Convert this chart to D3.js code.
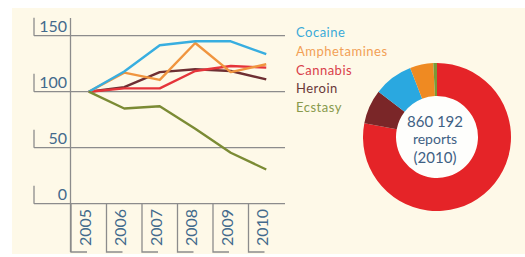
<!DOCTYPE html>
<html>
<head>
<meta charset="utf-8">
<script src="https://cdn.jsdelivr.net/npm/d3@7"></script>
<style>
  body { margin: 0; background: #ffffff; }
  svg { display: block; font-family: Lato, "Open Sans", sans-serif; }
</style>
</head>
<body>
<div id="vis"></div>
<script>
// chart data
const YEARS = ["2005", "2006", "2007", "2008", "2009", "2010"];
const Y_TICKS = [0, 50, 100, 150];

const SERIES_NAMES = ["Cocaine", "Amphetamines", "Cannabis", "Heroin", "Ecstasy"];
const COCAINE = [100, 118, 141.5, 145, 145, 133.5];
const AMPHETAMINES = [100, 117, 110.5, 143.5, 117.5, 124.5];
const CANNABIS = [100, 103, 103, 118.5, 123, 121.5];
const HEROIN = [100, 104, 117.5, 120, 118.5, 111];
const ECSTASY = [100, 85, 87, 67, 45.5, 30.5];

// share of reports in 2010 (percent), clockwise from top
const SHARE_NAMES = ["Cannabis", "Heroin", "Cocaine", "Amphetamines", "Ecstasy"];
const SHARE_VALUES = [78, 7.5, 8.6, 5.1, 0.8];
const TOTAL_LABEL = ["860 192", "reports", "(2010)"];

// colours
const LINE_COLORS = {Cocaine: "#38aee0", Amphetamines: "#f0953f", Cannabis: "#e5343a",
                     Heroin: "#6e2f33", Ecstasy: "#7b8b34"};
const TEXT_COLORS = {Cocaine: "#3aaad8", Amphetamines: "#f2a055", Cannabis: "#d9404a",
                     Heroin: "#6a3838", Ecstasy: "#889a4c"};
const PIE_COLORS = {Cannabis: "#e52428", Heroin: "#7a2628", Cocaine: "#2aa8e0",
                    Amphetamines: "#ef8a22", Ecstasy: "#789a38"};

const WIDTH = 525, HEIGHT = 257;
const AXIS_COLOR = "#8c8c8c";
const LABEL_COLOR = "#436a8c";

const svg = d3.select("#vis").append("svg")
              .attr("width", WIDTH)
              .attr("height", HEIGHT);

// cream panel
svg.append("rect")
   .attr("x", 12).attr("y", 8)
   .attr("width", WIDTH - 12).attr("height", 246)
   .attr("fill", "#fef9e8");

// scales
const X_SCALE = d3.scaleBand().domain(YEARS).range([71, 284]);
const Y_SCALE = d3.scaleLinear().domain([0, 150]).range([203.7, 35.7]);
const xPos = (i) => X_SCALE(YEARS[i]) + X_SCALE.bandwidth() / 2;

// horizontal gridlines with bracketed labels
const yTicks = svg.append("g");
Y_TICKS.forEach((t) => {
  const y = Y_SCALE(t);
  yTicks.append("line")
        .attr("x1", 34).attr("x2", 285)
        .attr("y1", y).attr("y2", y)
        .attr("stroke", AXIS_COLOR).attr("stroke-width", 1.3);
  yTicks.append("line")
        .attr("x1", 34).attr("x2", 34)
        .attr("y1", y - 18).attr("y2", y)
        .attr("stroke", AXIS_COLOR).attr("stroke-width", 1.3);
  yTicks.append("text")
        .attr("x", 67).attr("y", y - 3.5)
        .attr("text-anchor", "end")
        .attr("font-size", "16px")
        .attr("fill", LABEL_COLOR)
        .text(t);
});

// vertical axis line
svg.append("line")
   .attr("x1", 70.5).attr("x2", 70.5)
   .attr("y1", 18).attr("y2", 252)
   .attr("stroke", AXIS_COLOR).attr("stroke-width", 1.3);

// year labels with brackets
YEARS.forEach((yr) => {
  const x0 = X_SCALE(yr);
  svg.append("path")
     .attr("d", `M${x0},${Y_SCALE(0)}V252H${x0 + 16}`)
     .attr("fill", "none")
     .attr("stroke", AXIS_COLOR).attr("stroke-width", 1.3);
  svg.append("text")
     .attr("transform", `translate(${x0 + 13},227.5) rotate(-90)`)
     .attr("text-anchor", "middle")
     .attr("dominant-baseline", "central")
     .attr("font-size", "16px")
     .attr("fill", LABEL_COLOR)
     .text(yr);
});

// lines, drawn bottom to top
const lineGen = d3.line().x((d, i) => xPos(i)).y((d) => Y_SCALE(d));
const drawOrder = [["Heroin", HEROIN], ["Cannabis", CANNABIS], ["Amphetamines", AMPHETAMINES],
                   ["Cocaine", COCAINE], ["Ecstasy", ECSTASY]];
drawOrder.forEach(([name, vals]) => {
  svg.append("path")
     .datum(vals)
     .attr("d", lineGen)
     .attr("fill", "none")
     .attr("stroke", LINE_COLORS[name])
     .attr("stroke-width", 2.4)
     .attr("stroke-linejoin", "round");
});

// legend
SERIES_NAMES.forEach((name, i) => {
  svg.append("text")
     .attr("x", 296).attr("y", 37.3 + i * 18.6)
     .attr("font-size", "13px")
     .attr("letter-spacing", "0.5px")
     .attr("fill", TEXT_COLORS[name])
     .text(name);
});

// donut
const CX = 437, CY = 137;
const pie = d3.pie().sort(null).value((d) => d.value);
const arc = d3.arc().innerRadius(41).outerRadius(74);
const pieData = SHARE_NAMES.map((n, i) => ({name: n, value: SHARE_VALUES[i]}));

const donut = svg.append("g").attr("transform", `translate(${CX},${CY})`);
donut.append("circle").attr("r", 41).attr("fill", "#fefefc");
donut.selectAll("path")
     .data(pie(pieData))
     .enter()
     .append("path")
       .attr("d", arc)
       .attr("fill", (d) => PIE_COLORS[d.data.name]);

TOTAL_LABEL.forEach((t, i) => {
  donut.append("text")
       .attr("x", -2)
       .attr("y", [-10, 7, 25.5][i])
       .attr("text-anchor", "middle")
       .attr("font-size", i === 1 ? "14px" : "15px")
       .attr("fill", "#3f6184")
       .text(t);
});
</script>
</body>
</html>
